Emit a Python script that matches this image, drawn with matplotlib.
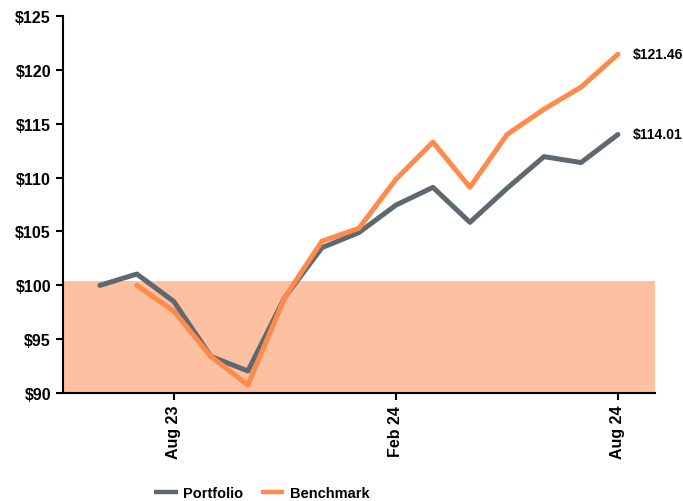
import numpy as np
import matplotlib
matplotlib.use("Agg")
import matplotlib.pyplot as plt

plt.rcParams['font.family'] = ['Liberation Sans', 'DejaVu Sans']
plt.rcParams['font.weight'] = 'bold'

# months indexed from Jun 23 = 0
months = ['Jun 23', 'Jul 23', 'Aug 23', 'Sep 23', 'Oct 23', 'Nov 23', 'Dec 23', 'Jan 24',
          'Feb 24', 'Mar 24', 'Apr 24', 'May 24', 'Jun 24', 'Jul 24', 'Aug 24']
portfolio = [100.0, 101.05, 98.5, 93.4, 92.05, 98.9, 103.5, 104.9,
             107.45, 109.1, 105.85, 109.0, 111.95, 111.4, 114.01]
benchmark = [100.0, 97.6, 93.4, 90.75, 98.9, 104.1, 105.3,
             109.85, 113.3, 109.1, 114.0, 116.35, 118.4, 121.46]
tick_labels = ['Aug 23', 'Feb 24', 'Aug 24']
yticks = [90, 95, 100, 105, 110, 115, 120, 125]
shade_top = 100.4

gray = '#5d6870'
orange = '#ff8a4c'
shade = '#fdc1a1'

fig = plt.figure(figsize=(6.83, 5.02), dpi=100)
ax = fig.add_axes([0.092, 0.215, 0.867, 0.751])

x_p = np.arange(len(portfolio))
x_b = np.arange(1, 1 + len(benchmark))

ax.axhspan(90, shade_top, color=shade, lw=0, zorder=0)
ax.plot(x_p, portfolio, color=gray, lw=3.6, solid_capstyle='round', label='Portfolio', zorder=3)
ax.plot(x_b, benchmark, color=orange, lw=3.6, solid_capstyle='round', label='Benchmark', zorder=4)

ax.text(x_b[-1] + 0.4, benchmark[-1], '$%.2f' % benchmark[-1], fontsize=10, fontweight='bold',
        va='center', ha='left')
ax.text(x_p[-1] + 0.4, portfolio[-1], '$%.2f' % portfolio[-1], fontsize=10, fontweight='bold',
        va='center', ha='left')

ax.set_xlim(-1, 15)
ax.set_ylim(90, 125)
ax.set_yticks(yticks)
ax.set_yticklabels(['$%d' % v for v in yticks], fontsize=11.5, fontweight='bold')
ax.set_xticks([months.index('Aug 23'), months.index('Feb 24'), months.index('Aug 24')])
ax.set_xticklabels(tick_labels, rotation=90, fontsize=11.5, fontweight='bold')

for s in ['top', 'right']:
    ax.spines[s].set_visible(False)
for s in ['left', 'bottom']:
    ax.spines[s].set_linewidth(1.5)
ax.tick_params(width=1.5, length=5)

leg = fig.legend(*ax.get_legend_handles_labels(), loc='center', bbox_to_anchor=(262 / 683, 8 / 502),
                 ncol=2, frameon=False, prop={'size': 10.5, 'weight': 'bold'},
                 handlelength=1.6, handletextpad=0.4, columnspacing=1.2, borderpad=0)
for h in leg.legend_handles:
    h.set_linewidth(3.2)
    h.set_solid_capstyle('butt')

fig.savefig('out.png', dpi=100)
